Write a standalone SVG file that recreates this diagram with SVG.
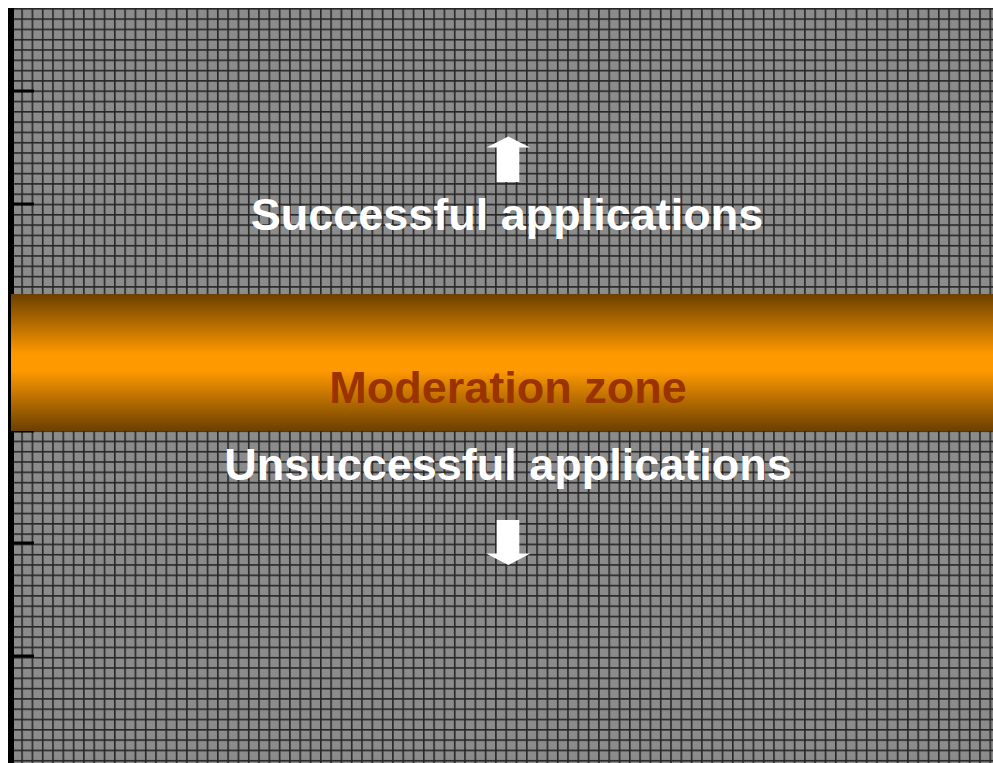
<svg xmlns="http://www.w3.org/2000/svg" width="993" height="763" viewBox="0 0 993 763">
  <defs>
    <pattern id="chk" x="0" y="0" width="2" height="2" patternUnits="userSpaceOnUse">
      <rect width="2" height="2" fill="#777777"/>
      <rect width="1" height="1" fill="#a0a0a0"/>
      <rect x="1" y="1" width="1" height="1" fill="#a0a0a0"/>
    </pattern>
    <pattern id="grid" x="11" y="8" width="10.3" height="10.3" patternUnits="userSpaceOnUse">
      <rect width="10.3" height="10.3" fill="url(#chk)"/>
      <rect x="0" y="0" width="10.3" height="1.6" fill="#262626"/>
      <rect x="0" y="0" width="1.6" height="10.3" fill="#262626"/>
    </pattern>
    <linearGradient id="band" x1="0" y1="0" x2="0" y2="1">
      <stop offset="0" stop-color="#6b4000"/>
      <stop offset="0.22" stop-color="#b56c00"/>
      <stop offset="0.44" stop-color="#ff9900"/>
      <stop offset="0.56" stop-color="#ff9900"/>
      <stop offset="0.78" stop-color="#b56c00"/>
      <stop offset="1" stop-color="#6b4000"/>
    </linearGradient>
    <style>
      .lbl { font-family: "Liberation Sans", Arial, sans-serif; font-weight: bold; font-size: 45px; text-anchor: middle; }
      .white { fill: #ffffff; }
      .arrow { fill: #ffffff; }
      .tick { fill: #000000; }
    </style>
  </defs>
  <rect width="993" height="763" fill="#ffffff"/>
  <g id="background">
    <rect x="14" y="8" width="979" height="755" fill="url(#grid)"/>
  </g>
  <g id="axis">
    <rect x="8" y="8" width="6" height="755" fill="#000000"/>
    <rect class="tick" x="8" y="89.5" width="26" height="3"/>
    <rect class="tick" x="8" y="202.5" width="26" height="3"/>
    <rect class="tick" x="8" y="429.5" width="26" height="3"/>
    <rect class="tick" x="8" y="541.5" width="26" height="3"/>
    <rect class="tick" x="8" y="654.5" width="26" height="3"/>
  </g>
  <g id="moderation-zone">
    <rect x="11" y="294" width="982" height="137" fill="url(#band)"/>
    <text class="lbl" x="508" y="403" fill="#993300">Moderation zone</text>
  </g>
  <g id="successful">
    <polygon class="arrow" points="508.3,136.5 530,147.5 519.3,147.5 519.3,182 496.7,182 496.7,147.5 486.5,147.5"/>
    <text class="lbl white" x="507" y="230">Successful applications</text>
  </g>
  <g id="unsuccessful">
    <text class="lbl white" x="508" y="480">Unsuccessful applications</text>
    <polygon class="arrow" points="496.7,520 519.3,520 519.3,553.5 530.5,553.5 508.3,565 486,553.5 496.7,553.5"/>
  </g>
  <g id="connectors"/>
</svg>
